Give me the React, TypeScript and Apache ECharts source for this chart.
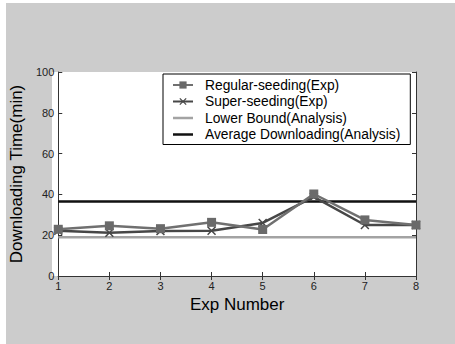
import React, { useEffect, useRef } from "react";
import * as echarts from "echarts";

const expNumbers = [1, 2, 3, 4, 5, 6, 7, 8];
const regularSeeding = [22.9, 24.6, 23.2, 26.3, 22.8, 40.2, 27.5, 25.0];
const superSeeding = [22.2, 21.2, 22.0, 22.2, 26.0, 38.8, 25.0, 25.0];
const lowerBound = [19, 19, 19, 19, 19, 19, 19, 19];
const averageDownloading = [36.5, 36.5, 36.5, 36.5, 36.5, 36.5, 36.5, 36.5];
const seriesNames = [
  "Regular-seeding(Exp)",
  "Super-seeding(Exp)",
  "Lower Bound(Analysis)",
  "Average Downloading(Analysis)",
];

const X_SYMBOL =
  "path://M0,1.2L1.2,0L5,3.8L8.8,0L10,1.2L6.2,5L10,8.8L8.8,10L5,6.2L1.2,10L0,8.8L3.8,5Z";
const LINE_ICON = "path://M0,0L20,0L20,2.5L0,2.5Z";

const pair = (vals: number[]) => expNumbers.map((x, i) => [x, vals[i]]);

export default function App() {
  const ref = useRef<HTMLDivElement>(null);
  useEffect(() => {
    if (!ref.current) return;
    const chart = echarts.init(ref.current, null, { renderer: "svg" });
    const font = "Liberation Sans, Arial, sans-serif";
    const axisLine = { show: true, lineStyle: { color: "#333", width: 1 } };
    const tick = { show: true, inside: true, length: 4, lineStyle: { color: "#333" } };
    chart.setOption({
      animation: false,
      backgroundColor: "#ffffff",
      textStyle: { fontFamily: font },
      graphic: [
        {
          type: "rect",
          z: -10,
          silent: true,
          shape: { x: 6, y: 3, width: 449, height: 341 },
          style: { fill: "#cccccc" },
        },
        {
          type: "rect",
          z: -9,
          silent: true,
          shape: { x: 52, y: 72, width: 364, height: 204 },
          style: { fill: "#ffffff" },
        },
      ],
      grid: { left: 52, top: 72, width: 364, height: 204, containLabel: false },
      legend: {
        left: 163,
        top: 74,
        orient: "vertical",
        backgroundColor: "#ffffff",
        borderColor: "#000",
        borderWidth: 1,
        borderRadius: 0,
        padding: [4, 10, 3, 9],
        itemWidth: 20,
        itemHeight: 9,
        itemGap: 2.5,
        data: [
          { name: seriesNames[0] },
          { name: seriesNames[1] },
          { name: seriesNames[2], icon: LINE_ICON },
          { name: seriesNames[3], icon: LINE_ICON },
        ],
        textStyle: {
          fontFamily: font,
          fontSize: 13.8,
          color: "#000",
          lineHeight: 14,
          padding: [0, 0, 0, 7],
        },
      },
      xAxis: [
        {
          type: "value",
          min: 1,
          max: 8,
          interval: 1,
          name: "Exp Number",
          nameLocation: "middle",
          nameGap: 17,
          nameTextStyle: { fontSize: 17, color: "#000", fontFamily: font, verticalAlign: "top" },
          axisLine,
          axisTick: tick,
          splitLine: { show: false },
          axisLabel: { fontSize: 11, color: "#222", margin: 4, fontFamily: font },
        },
        {
          type: "value",
          position: "top",
          min: 1,
          max: 8,
          interval: 1,
          axisLine,
          axisTick: tick,
          splitLine: { show: false },
          axisLabel: { show: false },
        },
      ],
      yAxis: [
        {
          type: "value",
          min: 0,
          max: 100,
          interval: 20,
          name: "Downloading Time(min)",
          nameLocation: "middle",
          nameGap: 26,
          nameTextStyle: { fontSize: 17, color: "#000", fontFamily: font },
          axisLine,
          axisTick: tick,
          splitLine: { show: false },
          axisLabel: { fontSize: 11, color: "#222", margin: 4, fontFamily: font },
        },
        {
          type: "value",
          position: "right",
          min: 0,
          max: 100,
          interval: 20,
          axisLine,
          axisTick: tick,
          splitLine: { show: false },
          axisLabel: { show: false },
        },
      ],
      series: [
        {
          name: seriesNames[2],
          type: "line",
          data: pair(lowerBound),
          symbol: "none",
          lineStyle: { color: "#a3a3a3", width: 2.5 },
          itemStyle: { color: "#a3a3a3" },
          z: 2,
        },
        {
          name: seriesNames[3],
          type: "line",
          data: pair(averageDownloading),
          symbol: "none",
          lineStyle: { color: "#111111", width: 2.5 },
          itemStyle: { color: "#111111" },
          z: 2,
        },
        {
          name: seriesNames[1],
          type: "line",
          data: pair(superSeeding),
          symbol: X_SYMBOL,
          symbolSize: 9,
          lineStyle: { color: "#474747", width: 2.5 },
          itemStyle: { color: "#474747" },
          z: 3,
        },
        {
          name: seriesNames[0],
          type: "line",
          data: pair(regularSeeding),
          symbol: "rect",
          symbolSize: 9,
          lineStyle: { color: "#707070", width: 2.5 },
          itemStyle: { color: "#6a6a6a" },
          z: 4,
        },
      ],
    });
    return () => chart.dispose();
  }, []);
  return (
    <div
      ref={ref}
      style={{ position: "fixed", left: 0, top: 0, width: 455, height: 344 }}
    />
  );
}
